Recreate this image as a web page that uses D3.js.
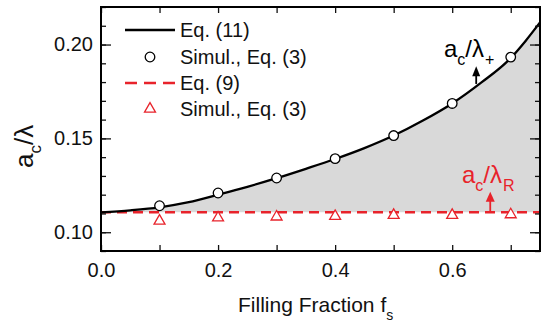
<!DOCTYPE html>
<html lang="en">
<head>
<meta charset="UTF-8">
<title>Critical radius vs filling fraction</title>
<style>
  body { margin: 0; background: #fff; }
  svg { display: block; font-family: "Liberation Sans", Arial, sans-serif; }
  .tick text { font-size: 20px; fill: #111; }
  .tick line { stroke: #111; stroke-width: 1.3px; }
</style>
</head>
<body>
<svg id="chart" width="546" height="322"></svg>
<script src="https://d3js.org/d3.v7.min.js"></script>
<script>
// Eq. (11) curve
const curveF = [0, 0.05, 0.1, 0.15, 0.2, 0.25, 0.3, 0.35, 0.4, 0.45, 0.5, 0.55, 0.6, 0.65, 0.7, 0.725, 0.75];
const curveA = [0.1106, 0.1117, 0.1133, 0.1160, 0.1200, 0.1242, 0.1288, 0.1338, 0.1390, 0.1448, 0.1515, 0.1595, 0.1686, 0.1798, 0.1928, 0.2018, 0.2118];

// Eq. (9): flat line
const eq9F = [0, 0.75];
const eq9A = [0.1106, 0.1106];

// simulations
const simF = [0.1, 0.2, 0.3, 0.4, 0.5, 0.6, 0.7];
const simPlus = [0.1141, 0.1209, 0.1289, 0.1392, 0.1515, 0.1686, 0.1933];
const simR = [0.1060, 0.1077, 0.1082, 0.1085, 0.1091, 0.1091, 0.1094];

const xTicks = [0, 0.2, 0.4, 0.6];
const yTicks = [0.10, 0.15, 0.20];

const red = '#e8232b';

const svg = d3.select('#chart');
const mLeft = 101, mRight = 540, mTop = 7, mBottom = 251;

const x = d3.scaleLinear().domain([0, 0.75]).range([mLeft, mRight]);
const y = d3.scaleLinear().domain([0.09, 0.22]).range([mBottom, mTop]);

const curve = curveF.map((f, i) => ({ f, a: curveA[i] }));
const base = eq9A[0];

// shaded region between the two curves
svg.append('path')
  .datum(curve)
  .attr('fill', '#d9d9d9')
  .attr('d', d3.area().x(d => x(d.f)).y0(y(base)).y1(d => y(d.a)).curve(d3.curveMonotoneX));

svg.append('path')
  .datum(eq9F.map((f, i) => ({ f, a: eq9A[i] })))
  .attr('fill', 'none')
  .attr('stroke', red)
  .attr('stroke-width', 2.5)
  .attr('stroke-dasharray', '10,6')
  .attr('d', d3.line().x(d => x(d.f)).y(d => y(d.a)));

svg.append('path')
  .datum(curve)
  .attr('fill', 'none')
  .attr('stroke', '#000')
  .attr('stroke-width', 2.3)
  .attr('d', d3.line().x(d => x(d.f)).y(d => y(d.a)).curve(d3.curveMonotoneX));

const tri = d3.symbol().type(d3.symbolTriangle).size(52);

svg.append('g').selectAll('path')
  .data(simF.map((f, i) => ({ f, a: simR[i] })))
  .join('path')
  .attr('transform', d => `translate(${x(d.f)},${y(d.a)})`)
  .attr('d', tri)
  .attr('fill', '#fff')
  .attr('stroke', red)
  .attr('stroke-width', 1.3);

svg.append('g').selectAll('circle')
  .data(simF.map((f, i) => ({ f, a: simPlus[i] })))
  .join('circle')
  .attr('cx', d => x(d.f))
  .attr('cy', d => y(d.a))
  .attr('r', 4.8)
  .attr('fill', '#fff')
  .attr('stroke', '#000')
  .attr('stroke-width', 1.3);

// arrows
function arrow(f, a0, a1, color, w) {
  const xx = x(f), y0 = y(a0), y1 = y(a1);
  svg.append('line')
    .attr('x1', xx).attr('x2', xx)
    .attr('y1', y0).attr('y2', y1 + 8)
    .attr('stroke', color).attr('stroke-width', 1.8);
  svg.append('path')
    .attr('d', `M${xx},${y1} L${xx - w / 2},${y1 + 10} L${xx + w / 2},${y1 + 10} Z`)
    .attr('fill', color);
}
arrow(0.641, 0.1790, 0.1884, '#000', 8);
arrow(0.665, base, 0.1216, red, 9);

// annotation labels
function label(xx, yy, sub, color) {
  const t = svg.append('text')
    .attr('x', xx).attr('y', yy)
    .attr('fill', color)
    .style('font-size', '24px');
  t.append('tspan').text('a');
  t.append('tspan').attr('dy', 8).style('font-size', '16px').text('c');
  t.append('tspan').attr('dy', -8).text('/λ');
  t.append('tspan').attr('dx', 1).attr('dy', 8).style('font-size', '16px').text(sub);
}
label(444, 57, '+', '#000');
label(462, 183, 'R', red);

// axes: major ticks with labels, minor ticks without
const xMinor = d3.range(0, 0.76, 0.1);
const yMinor = d3.range(0.09, 0.2201, 0.01);

svg.append('g')
  .attr('transform', `translate(0,${mBottom})`)
  .call(d3.axisBottom(x).tickValues(xMinor).tickSize(-6).tickPadding(12)
    .tickFormat(d => xTicks.some(t => Math.abs(t - d) < 1e-9) ? d3.format('.1f')(d) : ''))
  .call(g => g.select('.domain').remove());

svg.append('g')
  .attr('transform', `translate(0,${mTop})`)
  .call(d3.axisTop(x).tickValues(xMinor).tickSize(-6).tickFormat(''))
  .call(g => g.select('.domain').remove());

svg.append('g')
  .attr('transform', `translate(${mLeft},0)`)
  .call(d3.axisLeft(y).tickValues(yTicks).tickSize(-10).tickPadding(8).tickFormat(d3.format('.2f')))
  .call(g => g.select('.domain').remove());

svg.append('g')
  .attr('transform', `translate(${mLeft},0)`)
  .call(d3.axisLeft(y).tickValues(yMinor).tickSize(-5).tickFormat(''))
  .call(g => g.select('.domain').remove());

svg.append('g')
  .attr('transform', `translate(${mRight},0)`)
  .call(d3.axisRight(y).tickValues(yTicks).tickSize(-10).tickFormat(''))
  .call(g => g.select('.domain').remove());

svg.append('g')
  .attr('transform', `translate(${mRight},0)`)
  .call(d3.axisRight(y).tickValues(yMinor).tickSize(-5).tickFormat(''))
  .call(g => g.select('.domain').remove());

svg.append('rect')
  .attr('x', mLeft).attr('y', mTop)
  .attr('width', mRight - mLeft).attr('height', mBottom - mTop)
  .attr('fill', 'none').attr('stroke', '#000').attr('stroke-width', 2);

// legend
const legend = svg.append('g');
const rows = [
  { y: 30, text: 'Eq. (11)' },
  { y: 57, text: 'Simul., Eq. (3)' },
  { y: 83, text: 'Eq. (9)' },
  { y: 109, text: 'Simul., Eq. (3)' }
];
legend.append('line').attr('x1', 125).attr('x2', 175).attr('y1', rows[0].y).attr('y2', rows[0].y)
  .attr('stroke', '#000').attr('stroke-width', 2.3);
legend.append('circle').attr('cx', 150).attr('cy', rows[1].y).attr('r', 4.8)
  .attr('fill', '#fff').attr('stroke', '#000').attr('stroke-width', 1.3);
legend.append('line').attr('x1', 125).attr('x2', 175).attr('y1', rows[2].y).attr('y2', rows[2].y)
  .attr('stroke', red).attr('stroke-width', 2.5).attr('stroke-dasharray', '12,7');
legend.append('path').attr('transform', `translate(150,${rows[3].y})`).attr('d', tri)
  .attr('fill', '#fff').attr('stroke', red).attr('stroke-width', 1.3);
legend.selectAll('text')
  .data(rows)
  .join('text')
  .attr('x', 180)
  .attr('y', d => d.y)
  .attr('dy', '0.35em')
  .style('font-size', '20px')
  .attr('fill', '#111')
  .text(d => d.text);

// axis titles
const xt = svg.append('text')
  .attr('x', 238).attr('y', 312)
  .style('font-size', '21px')
  .attr('fill', '#111');
xt.append('tspan').text('Filling Fraction f');
xt.append('tspan').attr('dy', 8).style('font-size', '14px').text('s');

const yt = svg.append('text')
  .attr('transform', 'translate(33,168) rotate(-90)')
  .style('font-size', '26px')
  .attr('fill', '#111');
yt.append('tspan').text('a');
yt.append('tspan').attr('dy', 8).style('font-size', '17px').text('c');
yt.append('tspan').attr('dy', -8).text('/λ');
</script>
</body>
</html>
